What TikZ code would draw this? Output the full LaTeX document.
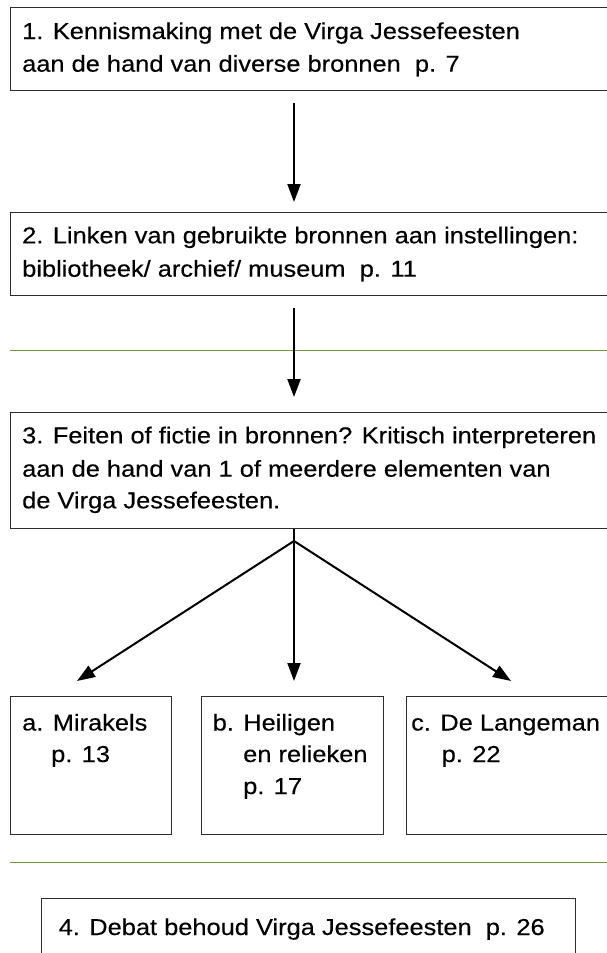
\documentclass[tikz,border=0pt]{standalone}
\usepackage{fontspec}
\setmainfont{Liberation Sans}[FakeStretch=1.105,FakeBold=0.3]
\usetikzlibrary{arrows.meta}
\definecolor{rulegreen}{RGB}{112,152,62}
\definecolor{boxline}{RGB}{45,45,45}
\begin{document}
\begin{tikzpicture}[x=1pt,y=-1pt,
  box/.style={draw=boxline, line width=1pt, rectangle, inner sep=0pt, anchor=north west},
  txt/.style={inner sep=0pt, anchor=base west, font=\fontsize{23}{28}\selectfont},
  arr/.style={draw=black, line width=2pt, -{Triangle[length=18pt,width=13pt]}},
  rule/.style={draw=rulegreen, line width=1pt}]
\useasboundingbox (0,0) rectangle (607,953);
\fill[white] (0,0) rectangle (607,953);
% boxes
\node[box, minimum width=612pt, minimum height=83pt] (b1) at (10,7) {};
\node[box, minimum width=612pt, minimum height=83pt] (b2) at (10,212) {};
\node[box, minimum width=612pt, minimum height=116pt] (b3) at (10,412) {};
\node[box, minimum width=161pt, minimum height=138pt] (ba) at (10,696) {};
\node[box, minimum width=182pt, minimum height=138pt] (bb) at (200.5,696) {};
\node[box, minimum width=215pt, minimum height=138pt] (bc) at (405.7,696) {};
\node[box, minimum width=533.6pt, minimum height=80pt] (b4) at (41.4,898) {};
% texts
\node[txt] (t1a) at (22,39) {1. Kennismaking met de Virga Jessefeesten};
\node[txt] (t1b) at (22,71.7) {aan de hand van diverse bronnen\ \ p. 7};
\node[txt] (t2a) at (22,243.3) {2. Linken van gebruikte bronnen aan instellingen:};
\node[txt] (t2b) at (22,276.7) {bibliotheek/ archief/ museum\ \ p. 11};
\node[txt] (t3a) at (22,443.3) {3. Feiten of fictie in bronnen? Kritisch interpreteren};
\node[txt] (t3b) at (22,476.7) {aan de hand van 1 of meerdere elementen van};
\node[txt] (t3c) at (22,508.3) {de Virga Jessefeesten.};
\node[txt] (taa) at (22,730.5) {a. Mirakels};
\node[txt] (tab) at (51,762) {p. 13};
\node[txt] (tba) at (212.5,730.5) {b. Heiligen};
\node[txt] (tbb) at (243,762) {en relieken};
\node[txt] (tbc) at (243,794) {p. 17};
\node[txt] (tca) at (411,730.5) {c. De Langeman};
\node[txt] (tcb) at (441.5,762) {p. 22};
\node[txt] (t4) at (58.5,935) {4. Debat behoud Virga Jessefeesten\ \ p. 26};
% green rules
\coordinate (r1l) at (10,350.5);
\coordinate (r1r) at (607,350.5);
\coordinate (r2l) at (10,862);
\coordinate (r2r) at (607,862);
\draw[rule] (r1l) -- (r1r);
\draw[rule] (r2l) -- (r2r);
% connectors
\coordinate (mid) at (294,0);
\draw[arr, shorten <=12pt, shorten >=10pt] (b1.south -| mid) -- (b2.north -| mid);
\draw[arr, shorten <=12pt, shorten >=15pt] (b2.south -| mid) -- (b3.north -| mid);
\coordinate (br) at (294,541);
\coordinate (tipa) at (77,681);
\coordinate (tipb) at (294,681);
\coordinate (tipc) at (511,681);
\draw[line width=2pt] (b3.south -| mid) -- (br);
\draw[arr] (br) -- (tipa);
\draw[arr] (br) -- (tipb);
\draw[arr] (br) -- (tipc);
\end{tikzpicture}
\end{document}
